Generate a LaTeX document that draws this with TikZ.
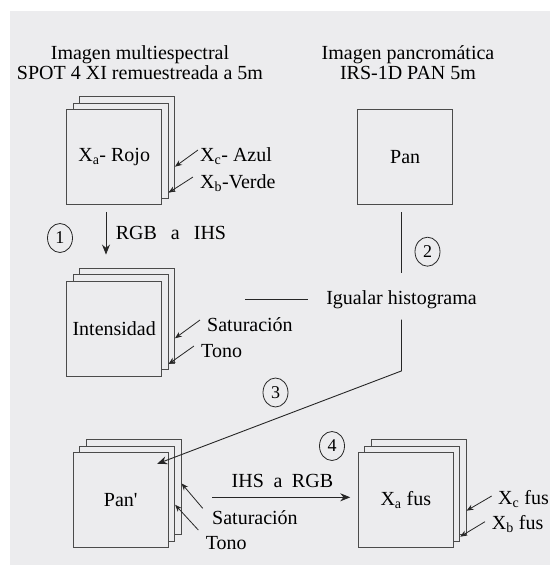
\documentclass[tikz,border=0pt]{standalone}
\usepackage{fontspec}
\setmainfont{Liberation Serif}
\usetikzlibrary{arrows.meta,shapes.geometric}

\definecolor{fondo}{RGB}{236,236,238}
\definecolor{borde}{RGB}{75,75,75}

\tikzset{
  capa/.style={draw=borde,line width=0.9pt,fill=fondo,minimum width=95pt,minimum height=95pt,inner sep=0pt,font=\fontsize{20}{20}\selectfont},
  texto/.style={inner sep=0pt,font=\fontsize{20}{20}\selectfont},
  paso/.style={ellipse,draw=black!85,line width=0.8pt,minimum width=25pt,minimum height=29pt,inner sep=0pt,font=\fontsize{18}{18}\selectfont},
  flecha/.style={draw=black!85,line width=0.9pt,-{Stealth[length=10pt,width=8pt]}},
  flechita/.style={draw=black!85,line width=0.8pt,-{Stealth[length=7pt,width=5.5pt]}},
  linea/.style={draw=black!85,line width=0.9pt}
}

\begin{document}
\begin{tikzpicture}[x=1pt,y=-1pt]
  \useasboundingbox (0,0) rectangle (550,574);
  \fill[fondo] (9.5,11) rectangle (550,565);

  % titulos
  \node[texto,align=center] (tmulti) at (140,63) {Imagen multiespectral\\SPOT 4 XI remuestreada a 5m};
  \node[texto,align=center] (tpan) at (408,63) {Imagen pancromática\\IRS-1D PAN 5m};

  % imagen multiespectral
  \node[capa] (xa3) at (127,144.4) {};
  \node[capa] (xa2) at (120.6,150.8) {};
  \node[capa] (xa) at (114.2,157.2) {X\textsubscript{a}- Rojo};
  \node[texto,anchor=base west] (azul) at (200,161) {X\textsubscript{c}- Azul};
  \node[texto,anchor=base west] (verde) at (200,188) {X\textsubscript{b}-Verde};
  \draw[flechita] ([shift={(-2,-11)}]azul.base west) -- ([shift={(0,22.3)}]xa3.east);
  \draw[flechita] ([shift={(-7,-11)}]verde.base west) -- ([shift={(0,41.9)}]xa2.east);

  % pancromatica
  \node[capa] (pan) at (405.2,157.2) {Pan};

  % componentes IHS
  \node[capa] (in3) at (127,315.7) {};
  \node[capa] (in2) at (120.6,322.1) {};
  \node[capa] (in) at (114.2,328.5) {Intensidad};
  \node[texto,anchor=base west] (sat1) at (207,331) {Saturación};
  \node[texto,anchor=base west] (tono1) at (201,357) {Tono};
  \draw[flechita] ([shift={(-7,-11)}]sat1.base west) -- ([shift={(0,22.6)}]in3.east);
  \draw[flechita] ([shift={(-7,-11)}]tono1.base west) -- ([shift={(0,41.9)}]in2.east);

  % paso 1
  \coordinate (rgb) at (106,0);
  \draw[flecha,shorten <=6.7pt,shorten >=13.2pt] (xa.south -| rgb) -- (in3.north -| rgb);
  \node[texto,anchor=base west] (rgbihs) at (115.7,239) {RGB\hspace{0.7em}a\hspace{0.7em}IHS};
  \node[paso] (p1) at (60,238) {1};

  % paso 2
  \node[texto,anchor=base] (igual) at (401.5,304) {Igualar histograma};
  \node[paso] (p2) at (427.5,251.7) {2};
  \draw[linea,shorten <=7pt,shorten >=17pt] (pan.south -| igual) -- (igual.north);
  \draw[linea] ([xshift=-18.4pt]igual.west) -- ++(-63.1,0);

  % paso 3
  \node[capa] (pp3) at (133.6,487.4) {};
  \node[capa] (pp2) at (127.2,493.8) {};
  \node[capa] (pp) at (120.8,500.2) {Pan\textquotesingle};
  \node[paso] (p3) at (275.5,392.5) {3};
  \draw[flecha,shorten <=11pt] (igual.south) -- ++(0,62.4) -- ([shift={(-11.6,11.6)}]pp.north east);
  \node[texto,anchor=base west] (sat2) at (212,524) {Saturación};
  \node[texto,anchor=base west] (tono2) at (205.7,549) {Tono};
  \draw[flechita] ([shift={(-9.3,-15.7)}]sat2.base west) -- ([shift={(0,-4)}]pp3.east);
  \draw[flechita] ([shift={(-7.4,-19)}]tono2.base west) -- ([shift={(0,11)}]pp2.east);

  % paso 4
  \node[capa] (xf3) at (418.6,487.4) {};
  \node[capa] (xf2) at (412.2,493.8) {};
  \node[capa] (xf) at (405.8,500.2) {X\textsubscript{a} fus};
  \node[paso] (p4) at (332,446) {4};
  \node[texto,anchor=base west] (ihsrgb) at (231.5,487) {IHS\hspace{0.48em}a\hspace{0.48em}RGB};
  \draw[flecha] ([shift={(43.7,-2.9)}]pp.east) -- ([shift={(-7.6,-2.9)}]xf.west);
  \node[texto,anchor=base west] (xcf) at (498,504) {X\textsubscript{c} fus};
  \node[texto,anchor=base west] (xbf) at (491.7,529) {X\textsubscript{b} fus};
  \draw[flechita] ([shift={(-6.3,-8)}]xcf.base west) -- ([shift={(0,23.3)}]xf3.east);
  \draw[flechita] ([shift={(-6.7,-7.3)}]xbf.base west) -- ([shift={(0,42.9)}]xf2.east);
\end{tikzpicture}
\end{document}
